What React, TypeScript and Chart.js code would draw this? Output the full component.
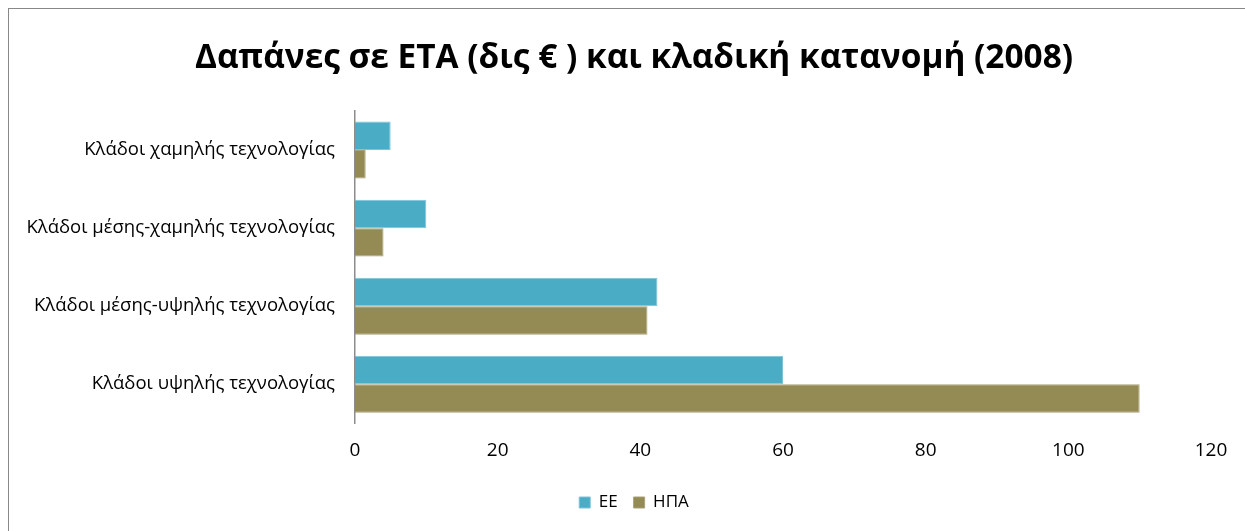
import React, { useEffect, useRef } from "react";
import { Chart, registerables } from "chart.js";

Chart.register(...registerables);

const categories = [
  "Κλάδοι χαμηλής τεχνολογίας",
  "Κλάδοι μέσης-χαμηλής τεχνολογίας",
  "Κλάδοι μέσης-υψηλής τεχνολογίας",
  "Κλάδοι υψηλής τεχνολογίας",
];
const euValues = [5, 10, 42.4, 60];
const usaValues = [1.5, 4, 41, 110];
const seriesNames = ["ΕΕ", "ΗΠΑ"];
const xTicks = [0, 20, 40, 60, 80, 100, 120];
const titleText = "Δαπάνες σε ΕΤΑ (δις € ) και κλαδική κατανομή (2008)";

const FONT = "'Open Sans', 'Noto Sans', sans-serif";

export default function App() {
  const ref = useRef<HTMLCanvasElement | null>(null);

  useEffect(() => {
    document.documentElement.style.overflow = "hidden";
    document.body.style.overflow = "hidden";
    const ctx = ref.current!;
    const chart = new Chart(ctx, {
      type: "bar",
      data: {
        labels: categories,
        datasets: [
          {
            label: seriesNames[0],
            data: euValues,
            backgroundColor: "#4BACC6",
            borderColor: "#7cc4d8",
            borderWidth: 1,
          },
          {
            label: seriesNames[1],
            data: usaValues,
            backgroundColor: "#948A54",
            borderColor: "#a9a177",
            borderWidth: 1,
          },
        ],
      },
      options: {
        indexAxis: "y",
        animation: false,
        responsive: false,
        maintainAspectRatio: false,
        layout: { padding: { left: 0, right: 0, top: 0, bottom: 18 } },
        datasets: { bar: { categoryPercentage: 0.73, barPercentage: 1.0 } },
        plugins: {
          title: {
            display: true,
            text: titleText,
            color: "#000",
            font: { family: FONT, size: 33.4, weight: "bold" },
            padding: { top: 29, bottom: 33 },
          },
          legend: {
            position: "bottom",
            labels: {
              boxWidth: 11,
              boxHeight: 11,
              color: "#000",
              font: { family: FONT, size: 17 },
              padding: 16,
            },
          },
          tooltip: { enabled: false },
        },
        scales: {
          x: {
            min: 0,
            max: 120,
            afterBuildTicks: (scale: any) => {
              scale.ticks = xTicks.map((v) => ({ value: v }));
            },
            grid: { display: false, drawTicks: false },
            border: { display: false },
            ticks: {
              color: "#000",
              font: { family: FONT, size: 19 },
              padding: 16,
            },
          },
          y: {
            afterFit: (scale: any) => {
              scale.width = 346;
            },
            grid: { display: false, drawTicks: false },
            border: { display: true, color: "#8c8c8c", width: 1.5 },
            ticks: {
              color: "#000",
              font: { family: FONT, size: 18.5 },
              padding: 20,
            },
          },
          yRight: {
            type: "category",
            position: "right",
            labels: categories,
            afterFit: (scale: any) => {
              scale.width = 48;
            },
            grid: { display: false, drawTicks: false },
            border: { display: false },
            ticks: { display: false },
          },
        },
      },
    });
    return () => chart.destroy();
  }, []);

  return (
    <div
      style={{
        position: "absolute",
        left: 8,
        top: 8,
        width: 1250,
        height: 530,
        border: "1px solid #888",
        background: "#fff",
      }}
    >
      <canvas ref={ref} width={1250} height={530} style={{ display: "block" }} />
    </div>
  );
}
